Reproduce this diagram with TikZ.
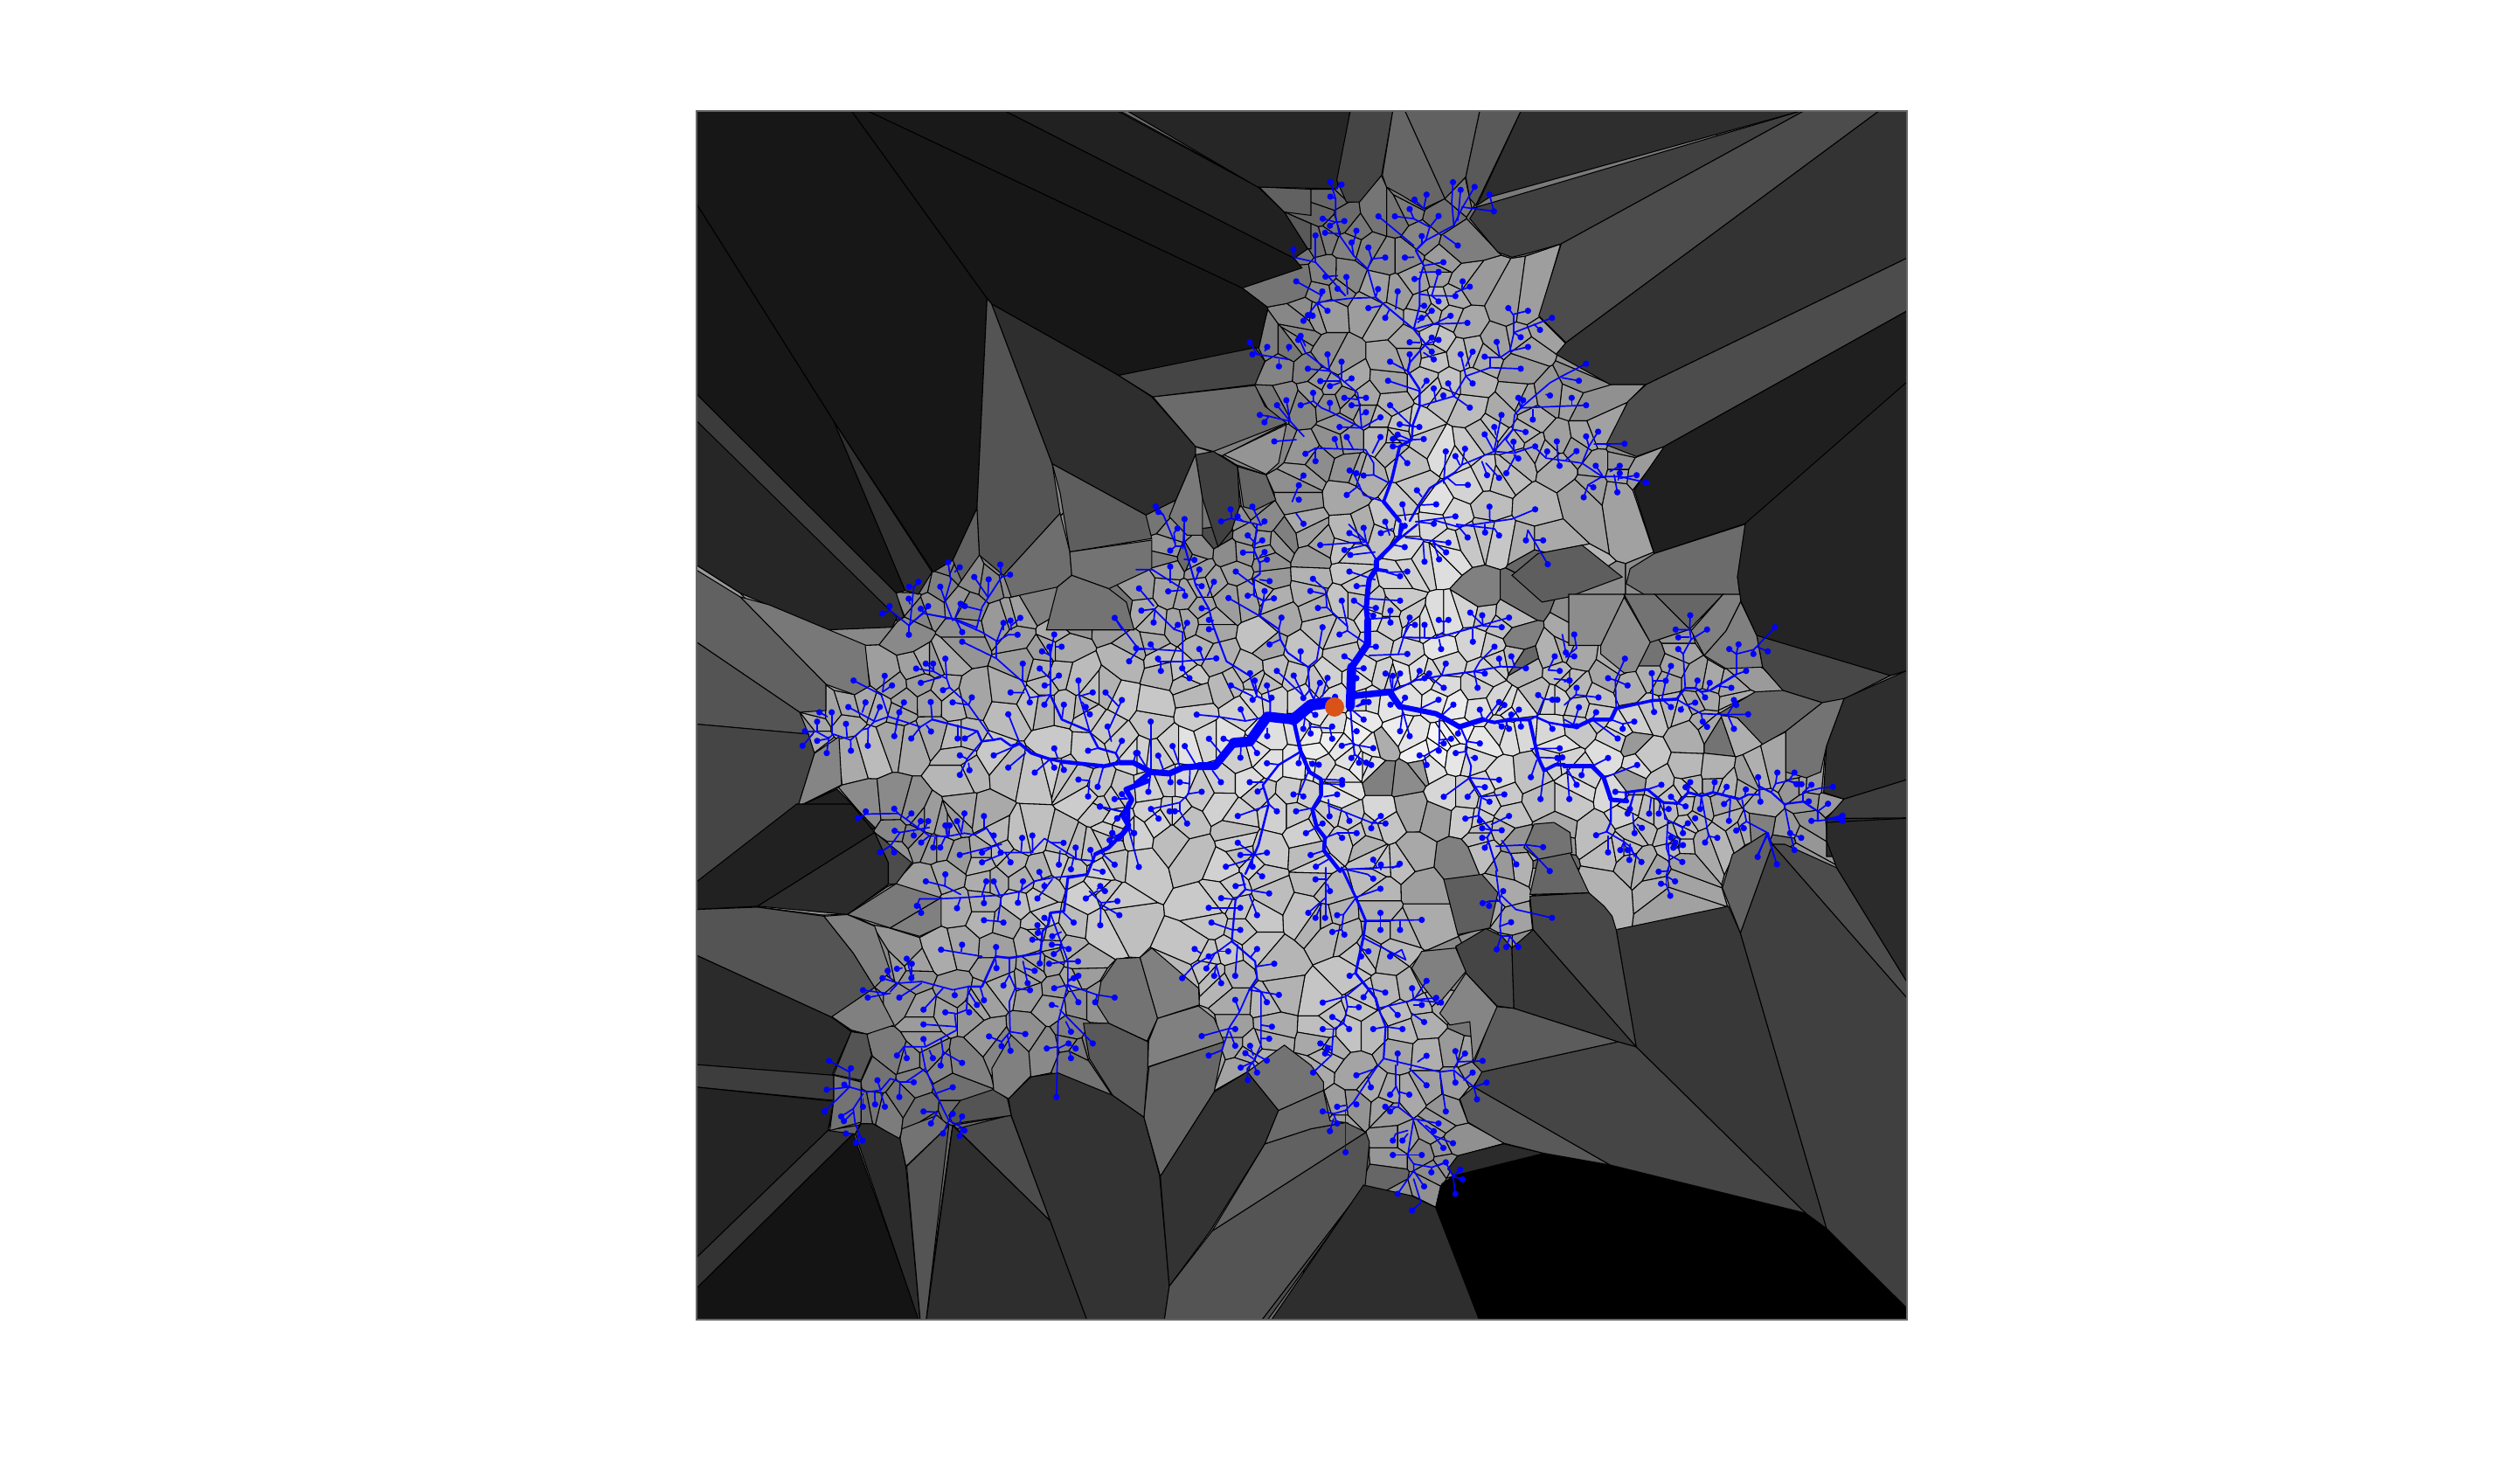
\documentclass[tikz,border=0pt]{standalone}
\definecolor{rootc}{RGB}{217,83,25}
\newcount\N \N=0
\newcount\curX \newcount\curY \newcount\first \newcount\sgv
\newcount\cpx \newcount\cpy \newcount\cpf \newcount\cqx \newcount\cqy \newcount\cqf \newcount\ca
\newcount\cdx \newcount\cdy \newcount\cdd \newcount\rmx \newcount\rtmp \newcount\chg
\newcount\sxi \newcount\syi \newcount\ii \newcount\jj \newcount\gi \newcount\seed
\newcount\tx \newcount\ty \newcount\ix \newcount\iy \newcount\fx \newcount\fy \newcount\gval
\def\zn#1#2#3#4{\def\ox{#1}\def\oy{#2}\def\kx{#3}\def\ky{#4}}
\def\pp{\futurelet\tok\ppc}
\def\ppc{\ifx\tok(\expandafter\ppt\else\expandafter\ppend\fi}
\def\ppt(#1,#2){\curX=\numexpr\ox*16+#1*1600/\kx\relax \curY=\numexpr\oy*16+#2*1600/\ky\relax \ptact \pp}
\def\mk{\pgfqpoint{\numexpr\curX*11654/10\relax sp}{-\numexpr\curY*11654/10\relax sp}}
\def\ptact{\ifcase\first\pgfpathlineto{\mk}\or\pgfpathmoveto{\mk}\first=0 \fi}
\def\addsite{\count\numexpr10000+\N\relax=\curX \count\numexpr12000+\N\relax=\curY \count\numexpr14000+\N\relax=\sgv \advance\N1 }
% pass 1: collect sites
\def\passone{\first=2 %
 \def\tw{\def\ppend{\sgv=0 \addsite}\pp}%
 \def\br{\def\ppend{}\pp}%
 \def\dm##1{\def\ppend{\sgv=##1 \addsite}\pp}%
 \def\ws##1{}}
% pass 2: draw tree
\def\passtwo{%
 \def\tw{\first=1 \def\ppend{\pgfusepath{stroke}\pgfpathcircle{\mk}{1.03pt}\pgfusepath{fill}}\pp}%
 \def\br{\first=1 \def\ppend{\pgfusepath{stroke}}\pp}%
 \def\dm##1{\first=2 \def\ppend{}\pp}%
 \def\ws##1{\pgfsetlinewidth{\the\dimexpr0.02845pt*##1\relax}}}
\def\pg#1{\definecolor{pc}{gray}{#1}\pgfsetfillcolor{pc}\first=1 \def\ppend{\pgfpathclose\pgfusepath{fill,stroke}}\pp}
% half-plane clipping of a cell
\def\vlast#1#2{\cpx=#1 \cpy=#2 }
\def\addq{\edef\newp{\unexpanded\expandafter{\newp}\noexpand\v{\the\cqx}{\the\cqy}}}
\def\addint{\chg=1 \ca=\numexpr\cpf-\cqf\relax
 \edef\newp{\unexpanded\expandafter{\newp}\noexpand\v{\the\numexpr\cpx+(\cqx-\cpx)*\cpf/\ca\relax}{\the\numexpr\cpy+(\cqy-\cpy)*\cpf/\ca\relax}}}
\def\vstep#1#2{\cqx=#1 \cqy=#2 
 \cqf=\numexpr\cqx*\cdx+\cqy*\cdy-\cdd\relax
 \ifnum\cpf>0 \ifnum\cqf>0 \else\addint\addq\fi
 \else \ifnum\cqf>0 \addint\else\addq\fi\fi
 \cpx=\cqx \cpy=\cqy \cpf=\cqf }
\def\vmax#1#2{\rtmp=\numexpr#1*#1+#2*#2\relax \ifnum\rtmp>\rmx \rmx=\rtmp \fi}
\def\clipby{\let\newp\empty \chg=0 \let\v\vlast \poly
 \cpf=\numexpr\cpx*\cdx+\cpy*\cdy-\cdd\relax
 \let\v\vstep \poly
 \ifnum\chg=1 \let\poly\newp \rmx=0 \let\v\vmax \poly \fi}
\def\jbody{\cdx=\numexpr\count\numexpr10000+\jj\relax-\sxi\relax
 \ifnum\cdx<11000 \ifnum\cdx>-11000
 \cdy=\numexpr\count\numexpr12000+\jj\relax-\syi\relax
 \ifnum\cdy<11000 \ifnum\cdy>-11000
 \cdd=\numexpr\cdx*\cdx+\cdy*\cdy\relax
 \ifnum\cdd>0 \ifnum\cdd<\numexpr4*\rmx\relax
 \divide\cdd 2 \clipby
 \fi\fi\fi\fi\fi\fi}
\def\jloop{\ifnum\jj<\N \jbody \advance\jj1 \expandafter\jloop\fi}
\def\vmv#1#2{\pgfpathmoveto{\pgfqpoint{\numexpr(#1+\sxi)*11654/10\relax sp}{-\numexpr(#2+\syi)*11654/10\relax sp}}\let\v\vln}
\def\vln#1#2{\pgfpathlineto{\pgfqpoint{\numexpr(#1+\sxi)*11654/10\relax sp}{-\numexpr(#2+\syi)*11654/10\relax sp}}}
\def\tb#1#2{\count\numexpr16000+14*(#2)+#1\relax}
\def\setgray{\gval=\count\numexpr14000+\ii\relax
 \ifnum\gval>0 \gval=\numexpr\gval*10\relax \else
 \tx=\numexpr\sxi/16-850\relax \ifnum\tx<0 \tx=0 \fi \ifnum\tx>1299 \tx=1299 \fi
 \ty=\numexpr\syi/16-150\relax \ifnum\ty<0 \ty=0 \fi \ifnum\ty>1399 \ty=1399 \fi
 \ix=\tx \divide\ix100 \fx=\numexpr\tx-100*\ix\relax
 \iy=\ty \divide\iy100 \fy=\numexpr\ty-100*\iy\relax
 \gval=\numexpr(\tb{\ix}{\iy}*(100-\fx)*(100-\fy)+\tb{\ix+1}{\iy}*\fx*(100-\fy)+\tb{\ix}{\iy+1}*(100-\fx)*\fy+\tb{\ix+1}{\iy+1}*\fx*\fy)/125+220\relax
 \seed=\numexpr(\seed*1103+12345)\relax \seed=\numexpr\seed-32768*(\seed/32768)\relax \ifnum\seed<0 \advance\seed32768 \fi
 \gval=\numexpr\gval+(\seed-16384)/400\relax
 \fi
 \ifnum\gval<100 \gval=100 \fi \ifnum\gval>985 \gval=985 \fi}
\def\onecell{\sxi=\count\numexpr10000+\ii\relax \syi=\count\numexpr12000+\ii\relax
 \def\poly{\v{-4160}{-4160}\v{4160}{-4160}\v{4160}{4160}\v{-4160}{4160}}\rmx=34611200 
 \jj=0 \jloop
 \setgray \definecolor{cc}{gray}{0.\the\gval}\pgfsetfillcolor{cc}
 \let\v\vmv \poly \pgfpathclose \pgfusepath{fill,stroke}}
\def\iloop{\ifnum\ii<\N \onecell \advance\ii1 \expandafter\iloop\fi}
\def\rowp#1{\ifx#1.\else \count\numexpr16000+\gi\relax=#1 \advance\gi1 \expandafter\rowp\fi}
\gi=0 \seed=4711
\rowp 22222222222222.
\rowp 22222223332222.
\rowp 22222235653222.
\rowp 22222235754322.
\rowp 22222245865432.
\rowp 22344557865422.
\rowp 24556667865543.
\rowp 26677889988654.
\rowp 24467777767653.
\rowp 23567776555432.
\rowp 23554667633222.
\rowp 23332355543222.
\rowp 22222234432222.
\rowp 22222223322222.
\rowp 22222222222222.
\rowp 22222222222222.
\def\treedata{%
\zn{1300}{600}{300}{300}%
\ws{105}\br(735,625)(740,490)
\ws{80}\br(740,490)(795,410)(795,330)
\ws{60}\br(795,330)(790,290)(795,230)(800,190)(825,150)(825,125)
\ws{45}\br(825,125)(880,70)(905,40)(910,0)
\ws{130}\br(660,612)(600,620)(540,670)
\ws{115}\br(540,670)(450,660)(390,745)(335,750)
\ws{90}\br(335,750)(270,830)(215,830)
\ws{70}\br(215,830)(160,835)(115,855)(50,850)
\ws{60}\br(50,850)(0,890)
\ws{50}\br(50,850)(0,822)
\ws{75}\br(735,590)(870,575)(905,625)
\ws{60}\br(905,625)(1030,650)(1110,695)(1190,670)
\ws{40}\br(1190,670)(1230,680)(1280,670)(1350,670)(1380,800)(1400,845)(1440,825)(1470,825)
\ws{45}\br(540,670)(565,780)(595,850)(635,875)(635,930)(605,980)(620,1040)(648,1075)(645,1120)(700,1190)
\ws{25}\br(565,780)(490,825)(435,895)(455,960)(420,1100)(405,1135)(375,1200)
\br(885,65)(965,0)
\br(1350,670)(1370,660)(1415,680)(1470,690)
\ws{20}\br(415,0)(405,90)(425,135)(425,170)(405,185)(405,245)(437,262)(425,315)(490,360)(495,395)(520,440)(590,490)(595,570)(610,600)
\br(165,0)(165,70)(205,210)(250,290)(265,350)(310,470)(390,520)(415,590)(460,610)(460,650)
\br(1115,700)(1135,745)(1130,775)(1150,830)(1145,870)(1185,935)(1175,1000)(1220,1050)(1205,1075)(1240,1190)
\br(875,575)(960,535)(1045,520)(1160,505)(1250,488)(1300,490)
\br(915,388)(1030,390)(1190,345)
\ws{17}%
\tw(135,75)(130,30)(142,14)\tw(165,75)(135,75)(117,90)\tw(165,120)(200,122)\tw(205,205)(225,212)\tw(205,190)(217,155)\tw(245,245)(267,197)\tw(250,290)(225,288)\tw(265,330)(250,328)\tw(265,360)(250,360)
\br(0,155)(55,155)(165,225)\tw(165,225)(168,245)\tw(165,225)(110,230)\tw(117,200)(117,145)
\br(60,290)(130,360)(160,370)(160,470)\tw(65,290)(18,296)\tw(65,290)(60,337)\tw(60,280)(10,220)\tw(160,435)(0,425)\tw(130,360)(143,345)\tw(165,360)(175,338)\tw(60,425)(50,412)
\br(160,470)(75,470)\tw(75,470)(75,461)\tw(85,470)(85,503)\tw(160,470)(275,460)\tw(232,468)(217,428)\tw(160,470)(158,494)\tw(158,494)(183,528)
\tw(405,60)(383,38)\tw(405,70)(433,55)\tw(405,97)(367,97)\tw(425,110)(441,95)\tw(425,130)(449,121)\tw(405,210)(342,162)\tw(425,190)(458,195)\tw(405,240)(383,245)\tw(437,262)(441,229)\tw(437,262)(473,254)\tw(425,315)(317,253)\tw(490,360)(499,320)\tw(495,395)(458,412)\tw(565,470)(565,436)
\tw(590,490)(620,465)(640,353)\tw(575,590)(483,503)\tw(575,590)(541,519)\tw(595,570)(574,596)\tw(610,600)(631,544)\tw(640,590)(657,527)
\br(650,225)(655,285)(725,350)(725,365)(790,410)\tw(650,225)(607,187)\tw(650,240)(598,229)\tw(655,285)(624,287)\tw(725,350)(706,262)\tw(725,365)(698,378)
\tw(385,515)(391,511)\tw(415,580)(407,536)\tw(400,590)(325,553)\tw(415,590)(400,602)\tw(460,610)(449,553)\tw(460,610)(465,595)
\tw(450,660)(375,675)(280,660)(208,653)\tw(375,675)(359,635)
\tw(450,700)(450,727)\tw(335,750)(300,736)\tw(295,790)(250,736)\tw(395,755)(415,785)\tw(360,760)(358,801)\tw(150,830)(125,761)\tw(205,825)(167,761)\tw(100,860)(76,794)\tw(50,850)(50,677)\tw(45,850)(5,785)\tw(118,855)(118,885)\tw(185,840)(183,890)(150,885)\tw(50,850)(42,918)\tw(262,845)(291,885)
\br(183,890)(180,925)(150,955)\tw(180,925)(225,918)\tw(150,955)(51,977)\tw(51,977)(77,1010)\br(150,955)(150,985)\tw(150,985)(115,985)\tw(150,985)(133,985)\tw(150,985)(175,1027)
\tw(490,825)(449,820)\tw(435,885)(390,885)\tw(435,905)(417,917)\tw(455,960)(483,985)\tw(450,965)(349,1001)\tw(405,1135)(349,1093)\tw(405,1135)(358,1135)\tw(405,1135)(449,1127)\tw(390,1150)(308,1175)\tw(400,1140)(400,1175)
\tw(565,780)(558,820)\tw(595,815)(605,822)\tw(600,820)(627,825)
\tw(590,850)(560,925)(574,934)\tw(560,925)(540,927)
\tw(640,875)(707,878)\tw(640,890)(707,893)\tw(645,935)(690,927)\tw(660,945)(664,1002)\tw(600,975)(549,985)\br(660,965)(810,1025)\tw(810,1025)(856,1027)\tw(810,1025)(840,1001)\tw(810,1025)(807,1043)\tw(720,990)(732,1018)\tw(610,1040)(640,1027)\br(650,1075)(690,1060)\tw(690,1060)(757,1060)\tw(690,1060)(707,1076)\tw(620,1040)(583,1060)\tw(645,1120)(599,1135)\tw(660,1150)(617,1175)\br(700,1185)(905,1175)\tw(825,1175)(814,1151)\tw(840,1185)(840,1168)\tw(880,1180)(905,1165)
\tw(595,640)(615,654)\tw(580,660)(574,702)\tw(595,680)(599,718)\br(600,695)(665,700)\tw(665,700)(673,736)\tw(665,700)(673,694)
\ws{20}\br(735,625)(745,750)(750,790)(765,800)\ws{17}\tw(755,625)(781,610)\tw(760,625)(798,610)\tw(745,640)(781,670)\tw(745,710)(757,710)\tw(745,750)(706,760)\tw(745,755)(814,768)\tw(750,790)(739,802)\tw(765,800)(765,818)\tw(765,800)(790,818)\tw(790,810)(807,826)\tw(660,610)(683,592)
\tw(740,510)(756,528)\tw(745,495)(781,494)\tw(745,470)(715,453)\tw(800,420)(823,420)\tw(800,450)(931,445)\tw(900,445)(939,320)\tw(795,255)(906,262)\tw(790,290)(748,262)\tw(790,285)(823,287)\tw(800,305)(814,313)\br(800,325)(870,320)\tw(870,320)(873,296)\tw(870,320)(873,337)\tw(795,210)(757,212)\tw(820,190)(732,162)\ws{40}\br(825,155)(860,160)\ws{17}\tw(860,165)(906,178)\tw(860,165)(931,162)
\br(825,125)(790,60)(730,0)\tw(820,95)(735,105)\tw(790,70)(715,88)\tw(790,60)(632,71)\tw(790,60)(781,12)\tw(790,60)(732,30)
\tw(905,40)(922,5)\tw(880,70)(922,78)\tw(925,45)(1072,63)\tw(1020,60)(1040,120)\tw(1020,60)(1064,96)\tw(985,60)(990,128)\tw(880,15)(840,30)
\tw(1100,0)(1138,45)\tw(1198,0)(1198,28)\tw(1100,0)(1230,15)(1246,38)\tw(1345,20)(1338,55)\tw(1345,20)(1413,137)\tw(1370,55)(1397,55)
\tw(990,388)(990,345)\br(1030,385)(1055,370)(1055,335)\tw(1055,335)(1039,328)\tw(1055,335)(1072,328)\tw(1040,395)(1047,428)\tw(1156,360)(1156,403)\tw(1190,345)(1147,303)\tw(1190,345)(1188,312)\tw(1190,348)(1255,353)\tw(1190,345)(1280,320)\tw(915,388)(939,345)(957,345)
\tw(1160,505)(1180,470)(1230,420)\tw(1160,505)(1197,512)\tw(1160,505)(1172,561)\tw(1050,515)(1063,478)\tw(1250,488)(1246,461)\tw(1300,490)(1288,453)\tw(1300,490)(1338,494)\tw(880,575)(870,520)(856,512)\tw(880,560)(881,520)\tw(880,575)(906,512)\tw(960,535)(973,503)\tw(1000,520)(1006,512)\tw(975,535)(990,528)\tw(1010,525)(1056,561)
\tw(905,625)(923,595)\tw(900,610)(873,619)\tw(915,640)(906,710)\tw(915,640)(939,727)\tw(980,630)(1038,602)\tw(1050,655)(1089,619)
\br(1040,670)(1040,740)\tw(1040,740)(1039,777)\tw(1040,740)(1081,736)\tw(1040,750)(1056,752)\tw(1040,765)(990,795)(973,793)\tw(990,795)(997,826)\tw(1110,700)(1105,718)
\tw(1135,745)(1180,752)\tw(1130,780)(1097,785)\tw(1150,800)(1163,802)\tw(1145,870)(1246,877)\tw(1145,870)(1056,935)\tw(1160,900)(1197,902)\tw(1165,905)(1138,935)\tw(1185,935)(1264,927)\tw(1190,940)(1213,952)\tw(1175,1000)(1130,1010)\tw(1220,1030)(1280,1001)\tw(1175,1005)(1180,1018)\tw(1220,1050)(1188,1043)\tw(1220,1050)(1255,1050)\tw(1205,1075)(1188,1076)\tw(1210,1090)(1197,1110)
\br(1235,1105)(1340,1100)\tw(1340,1100)(1397,1108)\br(1255,1085)(1270,1105)\tw(1270,1105)(1305,1167)\tw(1340,1105)(1420,1190)
\tw(1190,670)(1180,636)\tw(1200,668)(1246,610)\tw(1245,640)(1264,620)\tw(1280,670)(1314,636)\tw(1280,670)(1288,653)\tw(1240,680)(1255,694)\tw(1270,680)(1280,702)\tw(1320,670)(1321,694)\br(1375,660)(1400,600)\tw(1400,600)(1380,586)\tw(1400,600)(1429,602)\tw(1400,600)(1446,602)\tw(1415,680)(1429,702)
\tw(1355,770)(1454,769)\tw(1380,800)(1446,802)\tw(1400,845)(1388,943)\tw(1375,810)(1355,868)\tw(1440,825)(1463,800)
\tw(1415,500)(1437,453)\tw(1415,500)(1454,503)\tw(1435,530)(1488,536)\tw(1463,378)(1475,440)
%
\zn{1790}{680}{300}{300}%
\tw(5,215)(42,185)(34,138)\tw(5,215)(34,213)\tw(0,380)(40,345)(117,354)\tw(40,345)(42,321)\tw(0,300)(17,296)
\ws{45}\br(0,450)(42,455)(95,430)(160,430)(178,392)\ws{35}\br(178,392)(300,365)(385,360)\ws{25}\br(385,360)(415,322)(450,322)(470,335)(500,330)(590,275)
\ws{17}\tw(590,275)(624,263)\tw(160,430)(200,445)(240,437)\tw(200,445)(200,462)\tw(95,430)(183,495)\tw(95,430)(109,405)\tw(30,450)(50,388)\tw(0,430)(42,453)
\br(178,392)(175,295)\tw(175,295)(208,221)\tw(175,295)(150,288)\tw(175,295)(217,313)\tw(300,365)(308,404)\tw(303,360)(303,297)(300,271)\tw(303,297)(348,297)\tw(335,360)(348,297)(366,246)\tw(335,360)(366,387)
\br(385,360)(470,410)\tw(470,410)(475,437)\tw(475,437)(490,455)\tw(420,380)(449,372)\tw(405,385)(400,396)\br(470,410)(560,413)\tw(560,413)(631,412)\tw(560,413)(580,380)(582,363)\tw(575,385)(590,380)\tw(560,413)(582,462)
\br(415,322)(408,205)\tw(408,205)(391,188)\br(408,205)(435,155)\tw(435,155)(490,121)\br(435,155)(430,120)\tw(430,120)(432,72)\tw(430,122)(382,121)\tw(428,148)(391,148)\tw(450,322)(457,296)\tw(470,335)(483,354)\tw(490,330)(499,304)\tw(530,315)(573,321)
\br(590,275)(590,205)\tw(590,205)(566,188)\tw(590,205)(598,172)\tw(590,205)(650,190)(723,113)\tw(650,190)(649,205)\tw(660,180)(698,196)
\ws{50}\br(0,590)(95,590)(135,630)(160,705)(215,710)\ws{30}\br(210,680)(215,710)\ws{30}\br(210,680)(285,670)(340,715)(390,718)(425,680)(470,692)(510,680)(600,703)\ws{22}\br(600,703)(630,688)(670,688)(670,660)(710,680)(755,720)(820,712)(870,745)(870,778)
\ws{17}\tw(870,778)(945,768)\tw(905,770)(955,760)\tw(905,770)(955,778)\tw(870,778)(848,778)\tw(95,590)(150,562)\tw(135,630)(250,586)\tw(65,595)(59,621)\tw(10,600)(42,654)\tw(10,600)(17,703)\tw(210,680)(175,678)\tw(285,670)(333,654)
\ws{22}\br(160,705)(160,780)(145,815)\ws{17}\tw(145,815)(109,827)\br(145,815)(205,850)(230,870)(240,900)\tw(150,830)(150,886)\tw(205,850)(192,878)\tw(205,855)(217,878)\tw(240,680)(225,737)\tw(240,680)(217,753)\tw(235,755)(241,820)\tw(250,790)(266,802)\tw(298,700)(291,753)\tw(330,712)(324,753)\br(340,715)(345,770)\tw(342,740)(358,737)\br(345,770)(405,800)\tw(405,800)(424,786)\tw(405,800)(407,820)
\br(355,780)(350,870)(360,900)\tw(360,840)(366,835)\tw(350,860)(381,852)\br(352,815)(395,840)(395,870)\tw(395,870)(374,870)\tw(395,860)(407,861)
\tw(390,718)(366,695)\tw(395,720)(416,728)\tw(425,680)(432,645)\tw(425,680)(416,662)\br(470,692)(495,830)\tw(495,830)(483,852)\tw(495,830)(525,836)\tw(470,692)(466,737)\tw(440,770)(449,769)\tw(510,680)(516,645)\tw(540,690)(557,661)\tw(570,700)(548,720)\tw(570,705)(565,778)\tw(620,690)(623,670)\br(610,705)(625,780)(700,820)\tw(625,780)(610,790)(590,811)\tw(610,790)(616,803)\br(700,820)(660,900)\br(700,820)(720,900)\tw(670,688)(673,712)\tw(670,660)(665,628)
\br(710,680)(725,650)\tw(725,650)(731,612)\br(725,650)(770,640)\tw(770,640)(790,612)\tw(770,640)(797,652)\tw(770,640)(814,652)\br(820,712)(820,680)\tw(820,680)(848,654)\tw(820,680)(880,665)(922,661)\tw(815,712)(839,711)\tw(870,745)(905,719)\tw(755,720)(775,820)\tw(775,820)(813,836)\tw(775,820)(790,878)
%
\zn{1480}{920}{218}{261}%
\ws{30}\br(120,190)(155,278)(180,348)(175,395)(155,505)(205,580)(212,610)\ws{22}\br(212,610)(230,665)(225,760)\ws{17}\br(225,760)(205,790)(150,890)(130,915)(100,925)\tw(130,915)(130,1040)
\tw(130,195)(185,210)(199,223)\tw(80,225)(55,225)\tw(85,240)(91,260)\br(80,190)(80,340)\tw(80,340)(79,340)\tw(80,280)(37,325)\tw(70,300)(55,340)\tw(157,278)(217,253)\tw(157,278)(125,330)(109,332)\br(125,330)(120,375)\tw(120,375)(97,382)\tw(120,375)(127,390)\br(180,348)(320,346)\tw(217,348)(217,325)\tw(217,348)(217,376)\tw(266,350)(266,376)\tw(300,346)(320,346)\br(175,400)(280,465)(270,435)\tw(270,435)(241,455)\tw(165,430)(187,440)\tw(165,440)(169,455)\tw(155,505)(140,513)
\br(170,535)(130,575)(135,605)(125,655)\tw(130,575)(73,593)\tw(135,605)(163,607)\tw(125,655)(97,636)\tw(125,655)(139,672)\br(125,655)(100,672)(95,750)\tw(100,672)(73,672)\tw(95,750)(49,802)\tw(95,725)(67,715)\tw(95,735)(85,730)\tw(90,750)(79,745)\tw(190,550)(175,577)\tw(190,550)(229,563)
\br(212,610)(300,585)\tw(300,585)(296,550)\tw(300,585)(332,528)\tw(300,585)(356,579)\tw(300,585)(368,593)\tw(300,600)(320,600)\tw(295,625)(326,651)\tw(240,605)(260,630)\tw(230,665)(199,672)\tw(230,665)(272,672)
\br(225,760)(295,780)(365,800)(400,795)(450,845)\tw(450,845)(458,882)\tw(260,780)(260,745)\tw(310,770)(332,752)\tw(290,790)(332,840)\br(400,790)(410,770)\tw(410,770)(472,767)\tw(410,770)(404,738)\tw(410,770)(428,745)\tw(400,800)(404,832)\tw(425,825)(447,802)\tw(450,845)(482,832)\tw(365,800)(380,918)
\br(255,780)(255,840)(265,870)(262,905)(300,940)(285,1050)(300,1075)(300,1095)\tw(255,845)(241,868)\tw(265,860)(289,868)\tw(262,905)(229,904)\tw(255,905)(241,918)\tw(300,940)(362,954)\tw(310,945)(350,990)(374,1027)\tw(330,960)(350,977)\tw(350,990)(398,1013)\tw(285,975)(255,985)(248,1005)\tw(285,985)(272,1005)\tw(285,1048)(248,1048)\tw(285,1048)(320,1048)\tw(300,1095)(260,1164)\tw(300,1095)(326,1142)\tw(300,1120)(318,1190)(296,1214)
\br(300,1075)(345,1085)(380,1070)\tw(345,1085)(344,1100)\tw(360,1080)(380,1070)\br(380,1070)(398,1112)\tw(398,1112)(416,1092)\tw(398,1112)(422,1121)\tw(398,1112)(404,1164)
\tw(205,790)(157,810)\tw(185,815)(193,846)\tw(150,890)(157,897)\tw(100,925)(73,918)\tw(130,900)(109,904)\tw(100,925)(109,954)\tw(100,940)(91,977)
\br(505,200)(515,290)(520,300)(515,365)(518,395)\tw(515,280)(523,260)\br(515,290)(490,290)\tw(490,290)(472,296)\tw(490,290)(488,304)\tw(520,275)(555,315)(645,340)\tw(515,365)(543,353)\tw(518,395)(507,434)\br(518,395)(540,395)\tw(540,395)(531,427)\tw(540,395)(561,427)
\tw(1181,88)(1158,158)\tw(1181,88)(1206,180)\br(935,120)(938,175)(935,200)\tw(935,200)(911,202)\br(935,190)(930,215)\tw(930,215)(952,231)\br(930,215)(930,240)\tw(930,240)(917,238)\tw(930,240)(940,274)\tw(840,120)(838,167)\tw(840,135)(868,173)\tw(935,150)(970,173)
%
\zn{1480}{120}{218}{261}%
\ws{45}\br(265,1243)(225,1185)\ws{35}\br(225,1185)(245,1120)(265,1020)(295,1000)\ws{25}\br(295,1000)(298,955)(315,900)(315,850)(285,795)(290,770)\ws{20}\br(290,770)(330,715)(300,670)(315,600)(315,520)(325,480)(305,435)(330,405)\ws{17}\br(330,405)(400,360)(420,310)\ws{25}\br(290,1243)(315,1190)(340,1145)(400,1100)\ws{17}\br(400,1100)(420,1075)(500,1035)(550,1040)(600,1020)(630,1055)(720,1070)(770,1110)(815,1110)\tw(815,1110)(880,1128)\tw(600,1020)(603,1020)
\tw(320,1170)(308,1151)\tw(320,1195)(356,1193)\tw(280,1240)(272,1193)\tw(240,1285)(229,1245)\tw(305,1245)(404,1229)\tw(305,1245)(350,1251)\br(350,1240)(410,1260)(545,1237)\tw(490,1245)(489,1200)\tw(545,1237)(603,1208)
\br(225,1185)(175,1165)(150,1100)\tw(150,1100)(140,1092)\tw(165,1135)(133,1165)\br(240,1130)(200,1105)(200,1070)(180,1030)(55,1025)\tw(55,1025)(30,1042)\tw(55,1025)(55,1064)\tw(200,1105)(175,1107)\tw(175,1107)(157,1100)\tw(197,1040)(217,992)\tw(150,1030)(133,992)\tw(110,1025)(103,998)
\tw(265,1020)(248,1020)\tw(298,1000)(325,998)\tw(265,1045)(284,1070)\tw(290,1000)(260,985)\tw(285,1005)(248,998)\tw(296,960)(314,962)\tw(296,960)(265,954)\tw(296,960)(241,897)
\br(170,965)(165,900)(160,860)(120,820)(90,795)(30,740)(15,700)\tw(170,965)(115,962)\tw(170,965)(217,933)\tw(170,925)(181,918)\tw(160,875)(181,875)\tw(160,880)(127,875)\tw(165,897)(145,897)\tw(90,795)(85,745)\tw(90,795)(36,788)\tw(120,820)(120,767)\tw(115,825)(67,825)\tw(130,825)(145,817)\tw(115,830)(91,840)\tw(30,720)(18,690)\tw(15,700)(12,702)
\br(170,965)(90,915)(70,905)(50,885)\tw(50,885)(18,897)\tw(50,885)(49,860)\tw(90,915)(91,890)
\tw(315,855)(236,824)\tw(320,845)(332,824)\br(315,900)(400,870)\tw(400,870)(440,904)\tw(400,870)(386,832)\tw(355,885)(350,847)\tw(370,875)(374,868)
\br(400,870)(430,810)(490,785)\tw(490,785)(567,788)\tw(430,810)(417,745)\tw(430,810)(447,832)\tw(430,780)(447,737)\br(490,785)(490,755)(515,755)\tw(515,755)(507,708)\tw(490,755)(477,752)\br(515,755)(540,735)\tw(540,735)(585,723)\br(540,735)(550,680)\tw(550,680)(567,694)\tw(550,680)(645,636)\tw(600,655)(615,672)\br(550,680)(550,630)\tw(550,630)(536,607)\tw(550,625)(585,615)
\tw(285,795)(241,767)\tw(290,770)(290,745)\tw(330,715)(345,695)\tw(330,715)(362,702)\tw(330,720)(345,737)\tw(325,740)(350,760)\tw(315,710)(290,709)\br(300,670)(345,655)\tw(345,655)(434,651)\tw(350,655)(392,630)\tw(310,650)(345,615)\tw(310,640)(320,636)\tw(315,600)(326,600)\br(315,565)(345,570)\tw(345,570)(362,587)\tw(345,570)(404,571)\tw(404,560)(440,543)\tw(420,550)(422,527)\tw(345,570)(362,500)
\ws{20}\br(300,670)(240,610)(205,575)\ws{17}\br(205,575)(185,490)(150,450)(115,390)(105,330)(105,280)\tw(105,280)(92,230)\tw(105,280)(92,274)\tw(105,250)(120,238)\tw(110,350)(127,347)\tw(105,350)(73,340)\tw(105,350)(91,361)\tw(115,385)(79,382)\tw(150,450)(145,411)\tw(150,410)(157,376)\br(185,490)(195,460)\tw(195,460)(229,456)\tw(195,460)(187,426)\tw(240,610)(229,636)\tw(255,610)(260,557)\tw(220,600)(187,607)\tw(205,575)(211,550)
\br(205,575)(140,578)(60,590)\tw(60,590)(25,645)\tw(60,590)(85,615)\tw(60,600)(72,557)\tw(45,620)(36,628)\tw(50,622)(48,630)\br(55,470)(130,570)\tw(130,570)(110,549)\br(135,565)(132,514)\tw(132,514)(132,514)\tw(110,510)(80,513)\br(55,470)(0,455)\tw(0,455)(0,432)\tw(55,470)(55,390)\tw(72,570)(7,527)
\tw(315,520)(302,520)\tw(325,480)(374,470)\tw(315,500)(362,499)\tw(300,455)(278,456)\br(305,435)(320,415)\tw(320,415)(320,392)\br(330,405)(340,365)\tw(340,365)(362,332)\br(340,365)(300,340)\tw(300,340)(253,333)\tw(300,340)(290,311)\tw(300,420)(212,333)\tw(325,310)(302,283)\tw(325,310)(332,268)\tw(400,360)(395,290)(398,231)\tw(410,345)(417,254)\tw(420,310)(452,245)\tw(420,305)(500,318)\tw(500,318)(489,268)\tw(375,390)(410,420)
\br(500,1035)(547,970)(552,925)(567,905)\tw(567,905)(730,897)\tw(567,905)(561,875)\tw(567,905)(573,882)\tw(597,910)(597,940)\tw(694,895)(694,875)\br(567,905)(640,830)(670,810)\tw(670,810)(730,773)\tw(670,815)(712,824)\tw(630,865)(640,868)\tw(552,970)(579,977)\br(547,970)(530,1000)(555,1040)\tw(550,1030)(549,1006)\tw(550,1045)(561,1056)\tw(555,1045)(531,1100)\tw(500,1035)(519,926)\tw(500,1035)(477,984)\tw(505,985)(501,962)\tw(480,1070)(513,1114)\tw(470,1065)(483,1106)\tw(420,1075)(428,1027)\tw(415,1075)(404,1049)\tw(375,1130)(380,1035)\tw(385,1115)(405,1135)(435,1135)
\tw(660,1060)(657,1005)\tw(660,1060)(664,1078)\tw(680,1060)(706,1034)\tw(630,1050)(633,1035)\br(720,1070)(737,1020)\tw(737,1020)(730,990)\tw(737,1020)(760,976)\tw(750,1013)(826,1012)\tw(770,1105)(754,1078)\tw(790,1095)(814,1078)\tw(800,1105)(808,1157)\tw(810,1120)(814,1100)\br(770,1110)(735,1135)\tw(735,1135)(724,1172)\tw(735,1135)(748,1142)\tw(815,1115)(856,1106)
%
\zn{800}{120}{224}{261}%
\tw(1430,745)(1411,709)\tw(1430,745)(1418,745)\br(1430,745)(1510,760)\tw(1450,735)(1456,723)\tw(1486,760)(1486,781)\tw(1510,735)(1512,723)
\tw(1515,945)(1505,882)\tw(1515,945)(1481,897)\br(1515,945)(1460,930)\tw(1460,930)(1437,926)\tw(1460,930)(1449,948)\tw(1530,1000)(1474,1005)\br(1515,945)(1550,990)
\tw(1190,1225)(1170,1199)\tw(1190,1225)(1177,1216)\br(1190,1225)(1220,1310)\tw(1240,1325)(1244,1237)
\tw(1440,1255)(1362,1235)(1338,1244)\tw(1365,1235)(1362,1208)\tw(1395,1245)(1380,1229)\tw(1440,1255)(1418,1200)\tw(1440,1255)(1449,1244)
\tw(1520,1185)(1537,1136)\tw(1530,1175)(1537,1179)\tw(1530,1220)(1549,1251)\tw(1540,1120)(1549,1107)
\tw(630,1480)(645,1420)(638,1366)\tw(655,1395)(668,1381)\tw(630,1480)(618,1439)\br(650,1540)(630,1480)\tw(655,1535)(670,1490)\tw(725,1510)(681,1497)
\br(710,1568)(725,1500)(775,1410)\tw(775,1410)(772,1373)\tw(775,1410)(797,1403)\tw(740,1470)(742,1417)\tw(740,1470)(705,1410)
\br(580,1520)(655,1535)(710,1560)\br(538,1555)(580,1510)\tw(580,1510)(587,1497)\tw(575,1515)(568,1505)\br(538,1555)(490,1510)\tw(490,1510)(488,1497)\tw(490,1510)(469,1519)\br(540,1555)(550,1440)\tw(550,1440)(538,1439)\tw(550,1440)(562,1424)\tw(540,1490)(537,1475)\tw(780,1568)(780,1547)\tw(800,1568)(798,1540)\tw(800,1555)(823,1532)\tw(1085,1568)(1065,1532)
%
\zn{880}{680}{300}{300}%
\ws{60}\br(1310,609)(1250,578)(1205,578)\ws{45}\br(1205,578)(1150,590)(1010,575)\ws{35}\br(1010,575)(960,565)(900,545)(860,512)\ws{25}\br(860,512)(830,520)(795,495)(770,500)(730,505)(715,470)\ws{22}\br(715,470)(560,430)\ws{17}\br(560,430)(520,455)(410,420)(360,438)(340,460)(320,465)(280,500)(220,480)(205,495)(160,470)
\ws{60}\br(1300,640)(1225,670)(1245,705)(1215,760)(1235,795)(1200,840)
\ws{17}\tw(160,470)(123,470)\tw(150,480)(115,520)\tw(205,495)(165,503)\tw(205,490)(198,545)\tw(215,480)(215,405)\tw(165,470)(165,437)\tw(200,420)(173,405)\tw(268,490)(264,445)\tw(280,500)(281,537)\tw(340,460)(339,520)\tw(360,435)(272,387)\tw(320,405)(331,371)\tw(360,435)(380,387)\br(410,420)(385,345)\tw(385,345)(290,296)\tw(390,335)(397,280)\tw(390,335)(422,313)\br(435,450)(447,405)\tw(447,405)(463,371)\tw(447,405)(430,487)\tw(447,410)(447,405)\tw(520,455)(488,495)\tw(560,430)(555,370)\tw(540,450)(556,471)
\tw(647,450)(647,495)\tw(715,470)(672,495)\br(730,505)(680,565)\tw(680,565)(655,620)\tw(680,565)(655,553)\tw(685,580)(688,604)
\br(770,500)(685,380)(620,320)(610,290)\tw(685,380)(630,371)\tw(685,380)(696,354)\tw(610,290)(605,221)\br(610,290)(565,265)\tw(565,265)(563,238)\tw(565,265)(505,255)\tw(590,285)(521,304)\tw(565,260)(538,238)\tw(620,320)(597,329)
\tw(860,510)(821,412)\tw(860,515)(771,553)\tw(880,545)(821,595)\tw(960,570)(912,612)\tw(965,570)(979,595)\tw(1000,570)(1012,603)\tw(990,560)(979,529)
\ws{25}\br(1205,575)(1190,545)(1130,528)(1100,470)(1005,430)(965,345)\ws{17}\br(965,345)(895,355)(870,300)(780,220)\tw(780,220)(663,163)\tw(1130,528)(1095,537)\tw(1190,545)(1211,503)\tw(1175,505)(1162,454)
\br(1100,470)(1065,350)\tw(1065,350)(1062,296)\tw(1065,350)(1111,337)\tw(1075,370)(1087,387)\tw(1085,395)(1101,412)\tw(1170,455)(1211,363)\tw(1200,385)(1155,337)
\tw(1005,430)(1012,379)\tw(965,345)(945,379)\br(965,345)(965,210)\tw(965,300)(995,279)\tw(965,310)(946,313)\tw(965,290)(929,255)\tw(965,210)(979,138)\tw(965,210)(937,196)\tw(965,210)(962,180)\tw(985,180)(1004,180)\tw(870,300)(871,238)\tw(875,338)(829,337)\tw(895,355)(895,371)
\br(780,220)(780,160)(730,130)(630,85)(530,65)(480,105)\tw(480,105)(480,139)\br(780,165)(805,100)\tw(780,165)(820,139)(853,139)\tw(640,85)(663,130)\br(1186,80)(1268,188)\tw(1268,188)(1236,230)\br(1268,188)(1290,188)
\tw(1100,640)(1062,636)\tw(1148,590)(1128,661)\tw(1100,640)(1095,694)\tw(1230,703)(1186,703)\tw(1225,700)(1211,686)\tw(1210,745)(1136,728)\tw(1215,760)(1195,769)\tw(1235,800)(1252,820)\tw(1200,835)(1178,820)\tw(1250,578)(1260,545)
%
\zn{800}{920}{224}{261}%
\ws{45}\br(1100,0)(1100,70)(1050,130)(1015,150)\ws{30}\br(1015,150)(995,210)(945,220)(935,320)(900,325)(895,360)\ws{25}\br(895,360)(880,380)(875,445)(795,460)(760,455)(725,545)(690,545)
\ws{17}\br(407,42)(427,30)(510,28)(590,95)(635,97)(680,87)(705,92)(737,72)(775,145)(850,145)(885,103)(915,125)(970,165)(1015,170)
\tw(420,36)(407,42)\tw(427,30)(427,22)\tw(510,28)(500,14)\tw(530,45)(544,28)\tw(560,70)(568,51)\tw(575,80)(587,51)\br(590,70)(515,85)(490,125)\tw(490,125)(464,144)\tw(515,85)(501,80)\tw(490,125)(500,144)\tw(550,80)(550,94)\tw(590,95)(569,115)\tw(605,100)(600,130)\tw(630,100)(618,130)\tw(635,95)(631,64)\tw(640,95)(642,64)\tw(672,85)(661,51)\tw(672,85)(680,28)\tw(730,70)(730,36)\tw(745,85)(755,94)\tw(775,120)(668,152)\tw(775,150)(725,174)\tw(750,130)(725,145)\tw(770,140)(773,145)\tw(785,145)(798,174)\tw(825,145)(828,101)\tw(855,145)(854,94)\tw(900,115)(934,116)\tw(965,165)(965,130)\tw(925,140)(922,181)\tw(960,160)(953,195)\tw(1010,170)(1003,137)\tw(1010,195)(1034,202)\tw(1030,145)(1065,181)\tw(1095,50)(1127,188)\tw(1100,70)(1115,87)\tw(1050,130)(1059,87)\tw(1090,80)(1052,108)\tw(1090,25)(1072,43)\tw(1090,25)(1027,8)
\ws{22}\br(1390,207)(1400,255)(1375,285)(1365,410)(1425,470)(1430,520)(1410,555)\ws{17}\br(1410,555)(1385,620)(1360,665)(1340,735)\tw(1400,240)(1375,245)\tw(1400,255)(1461,267)\tw(1375,285)(1338,281)\tw(1370,310)(1306,310)\tw(1365,310)(1387,310)\tw(1410,270)(1430,332)\tw(1365,375)(1313,354)\tw(1365,375)(1387,376)\br(1365,410)(1330,440)(1270,480)\tw(1270,480)(1238,520)\tw(1285,445)(1270,433)\tw(1325,445)(1306,455)\tw(1330,440)(1356,440)\tw(1320,450)(1300,491)\tw(1325,480)(1320,513)\tw(1325,480)(1338,535)\tw(1380,420)(1374,513)\tw(1415,455)(1430,433)\tw(1430,485)(1474,477)\tw(1410,555)(1486,570)\tw(1385,620)(1374,585)
\br(1420,545)(1440,560)(1440,720)(1420,770)(1405,790)\tw(1440,560)(1455,592)\tw(1440,660)(1468,665)\tw(1440,700)(1461,701)\tw(1360,670)(1288,693)\tw(1360,670)(1374,672)\tw(1360,680)(1374,722)\tw(1340,735)(1306,751)\tw(1420,750)(1412,722)\tw(1420,760)(1400,744)\tw(1430,750)(1455,766)\tw(1420,770)(1388,787)\tw(1420,775)(1430,802)\tw(1405,790)(1406,824)\tw(1430,205)(1443,216)
\tw(725,455)(620,435)\tw(672,440)(674,420)\tw(760,455)(761,427)\tw(760,465)(762,490)\br(795,460)(795,510)(810,550)\tw(810,550)(848,556)\tw(795,510)(780,542)\br(810,550)(795,590)(797,680)\tw(797,680)(836,687)\br(797,680)(775,710)\tw(775,710)(743,694)\tw(775,710)(775,723)\tw(790,690)(798,737)\tw(830,470)(842,535)\tw(835,490)(860,498)\tw(875,445)(873,476)\tw(880,400)(867,362)\tw(895,350)(885,340)\tw(875,405)(854,405)\tw(875,385)(868,385)
\br(900,325)(945,470)(945,540)(920,650)\tw(920,650)(916,875)\tw(928,382)(905,395)\tw(925,420)(904,420)\tw(925,425)(947,433)\tw(930,430)(909,448)\tw(945,470)(897,477)\tw(945,470)(971,470)\tw(945,530)(972,513)\tw(945,525)(960,520)\tw(945,540)(972,592)\br(945,540)(1020,570)\tw(1020,570)(1065,578)\tw(1020,570)(1015,592)\tw(945,540)(910,550)\tw(920,605)(904,600)\tw(925,615)(1009,715)\tw(940,650)(953,680)\br(920,730)(946,715)\tw(946,715)(965,730)\tw(946,715)(947,715)\tw(920,725)(891,730)\tw(950,740)(953,759)\tw(930,320)(960,354)
\br(1000,260)(1030,295)\tw(1030,295)(1028,362)\tw(1030,300)(1077,332)\tw(1030,295)(1072,290)\tw(1020,255)(1028,245)\tw(1020,260)(1040,260)\tw(1020,260)(991,282)
\br(995,210)(905,220)(860,230)(820,262)(775,272)(670,280)(615,283)(565,283)\tw(565,283)(558,304)\tw(880,225)(872,203)\tw(905,225)(867,282)\tw(885,235)(885,245)\tw(825,262)(830,231)\tw(820,262)(817,295)\br(775,272)(765,350)\tw(765,350)(780,354)\tw(765,350)(730,347)\tw(770,272)(755,231)\tw(725,272)(736,231)\tw(730,272)(730,296)\tw(670,280)(661,311)\br(670,270)(630,245)\tw(630,245)(581,231)\tw(630,245)(631,210)\tw(565,300)(569,325)
\br(690,545)(685,615)(655,628)(660,675)(580,725)(525,725)\tw(685,615)(692,622)\tw(655,625)(631,622)\tw(660,665)(575,658)\tw(525,725)(507,751)\tw(525,725)(532,759)\tw(580,725)(575,702)\tw(590,735)(599,759)\br(620,700)(625,740)\tw(625,740)(674,773)\tw(625,740)(619,781)
\br(690,545)(650,555)(570,530)(510,535)(490,560)\tw(545,520)(532,462)\tw(545,510)(545,477)\tw(550,510)(544,520)\tw(510,535)(470,520)\tw(490,520)(483,498)\tw(520,490)(507,492)\tw(490,565)(432,578)\tw(480,565)(420,556)\tw(570,535)(513,578)\tw(625,550)(575,614)\tw(655,555)(655,571)\tw(690,560)(712,600)\tw(720,545)(730,586)
\br(570,730)(580,790)(530,830)(515,830)(490,820)(465,855)(430,860)(385,845)(355,880)\tw(355,880)(321,918)\tw(530,830)(550,831)\tw(515,830)(513,875)\tw(465,855)(457,825)\tw(465,860)(476,904)\tw(450,860)(451,897)\br(385,845)(385,800)\tw(385,800)(389,789)\tw(385,800)(333,767)\tw(385,845)(372,838)\tw(385,845)(327,853)
\br(420,865)(395,910)(400,955)(410,985)\tw(410,985)(419,1005)\tw(410,985)(402,1012)\tw(390,985)(376,984)\tw(420,880)(420,904)\tw(395,910)(364,933)\tw(395,920)(371,947)
\br(580,790)(605,860)(625,910)(640,945)(672,965)\tw(672,965)(680,975)\tw(605,865)(650,846)\tw(610,920)(575,918)\tw(610,920)(594,954)\tw(640,945)(650,925)\tw(640,945)(625,984)\tw(665,960)(674,933)\tw(672,970)(668,991)
%
% cells without a dot
\zn{1300}{600}{300}{300}%
\dm{76}(440,390)\dm{72}(180,535)\dm{78}(60,620)\dm{72}(200,590)\dm{72}(310,560)\dm{74}(130,1080)\dm{74}(200,1130)\dm{74}(340,1050)\dm{82}(290,960)\dm{68}(845,760)\dm{50}(840,860)\dm{64}(950,980)\dm{62}(1030,1000)\dm{55}(930,870)\dm{60}(980,830)\dm{50}(1180,250)\dm{42}(1320,250)\dm{40}(1380,130)\dm{40}(1330,480)\dm{50}(1300,390)\dm{60}(610,110)\dm{58}(490,60)\dm{62}(590,30)\dm{30}(280,30)\dm{55}(320,100)\dm{50}(110,120)\dm{55}(210,90)\dm{70}(790,1100)\dm{92}(610,790)\dm{60}(1280,1170)\dm{50}(1100,1150)\dm{42}(1420,1170)\dm{66}(1440,1050)\dm{58}(1300,1090)
\zn{1790}{680}{300}{300}%
\dm{55}(60,90)\dm{68}(430,480)\dm{45}(530,480)\dm{78}(280,560)\dm{72}(425,610)\dm{70}(515,620)\dm{62}(640,640)\dm{68}(185,235)\dm{45}(300,220)\dm{55}(360,90)\dm{62}(225,640)\dm{60}(230,510)\dm{50}(660,800)\dm{40}(770,850)
\zn{800}{120}{224}{261}%
\dm{50}(1500,1290)\dm{46}(1325,1240)\dm{45}(1080,1500)\dm{42}(1250,1350)\dm{58}(950,1530)\dm{50}(870,1500)
\zn{1480}{920}{218}{261}%
\dm{62}(320,250)\dm{72}(250,440)\dm{54}(380,510)\dm{46}(440,640)\dm{66}(300,150)\dm{46}(50,950)\dm{42}(60,1040)\dm{40}(130,1060)\dm{40}(240,1120)\dm{60}(650,100)\dm{70}(770,250)
}
\def\polydata{%
\zn{800}{120}{224}{261}%
\pg{.09}(-10,17)(390,17)(738,578)(712,1205)(650,1360)(600,1395)(345,945)(-10,290)
\pg{.09}(-10,290)(345,945)(528,1450)(505,1458)(-10,860)
\pg{.19}(345,945)(597,1395)(562,1462)(528,1450)
\pg{.23}(-10,860)(505,1458)(525,1530)(490,1545)(-10,940)
\pg{.15}(-10,940)(507,1530)(495,1560)(327,1568)(105,1458)(-10,1372)
\pg{.09}(390,17)(430,17)(1392,547)(1458,605)(1435,725)(1075,808)(750,595)(738,578)
\pg{.10}(430,17)(782,17)(1525,458)(1545,487)(1392,547)
\pg{.13}(782,17)(1070,17)(1432,245)(1500,320)(1560,430)(1525,458)
\pg{.33}(738,578)(750,595)(905,1072)(925,1220)(780,1405)(718,1345)(712,1205)
\pg{.18}(750,595)(1075,808)(1160,872)(1272,1020)(1272,1045)(1222,1180)(1145,1225)(905,1072)
\pg{.27}(1075,808)(1425,725)(1450,765)(1425,835)(1163,872)
\pg{.42}(1163,872)(1425,838)(1450,900)(1505,950)(1318,1035)(1272,1020)
\pg{.58}(1345,1045)(1505,955)(1485,1070)(1453,1103)
\pg{.25}(1272,1045)(1290,1175)(1330,1320)(1365,1270)(1385,1200)(1380,1080)(1318,1035)
\pg{.40}(1380,1080)(1453,1105)(1478,1180)(1425,1210)(1395,1200)
\pg{.37}(905,1072)(1145,1225)(1160,1295)(950,1335)(925,1158)
\pg{.43}(925,1220)(950,1335)(955,1405)(918,1440)(800,1470)(780,1405)
\pg{.45}(950,1335)(1160,1300)(1160,1385)(1050,1445)(955,1405)
\pg{.45}(955,1405)(1050,1445)(1095,1485)(1115,1568)(890,1568)(918,1440)
\pg{.48}(1222,1180)(1272,1045)(1290,1175)(1290,1285)(1250,1285)(1205,1230)
\pg{.38}(712,1205)(718,1345)(672,1420)(650,1360)
\pg{.38}(1435,245)(1568,252)(1568,330)(1500,320)
\pg{.35}(1500,320)(1568,355)(1568,430)(1560,430)
\zn{0}{0}{100}{100}%
\pg{.15}(1278,120)(1439,214)(1530,216)(1546,120)
\pg{.47}(847,683)(880,692)(990,738)(995,785)(978,795)(945,783)
\pg{.38}(790,648)(847,683)(945,783)(945,813)(915,815)(790,730)
\pg{.33}(790,730)(915,815)(925,840)(790,828)
\pg{.27}(790,828)(925,840)(932,862)(913,923)(790,1015)
\pg{.52}(932,862)(960,843)(963,898)(913,923)
\pg{.13}(913,923)(958,903)(1001,947)(868,1038)(790,1042)(790,1015)
\pg{.14}(2190,430)(1997,599)(1988,660)(1992,688)(2010,727)(2163,773)(2190,765)
\zn{1480}{120}{218}{261}%
\pg{.27}(142,17)(248,17)(220,210)(165,290)(132,290)(108,225)
\pg{.40}(248,17)(278,17)(378,280)(325,310)(270,270)(232,245)(222,210)
\pg{.38}(278,17)(465,17)(430,215)(378,280)
\pg{.35}(465,17)(568,17)(455,300)(440,280)(430,215)
\pg{.18}(568,17)(1270,17)(490,275)(458,300)
\pg{.25}(1270,17)(458,305)(440,340)(510,440)(545,455)(580,445)(668,415)(1275,17)
\pg{.30}(1275,17)(1462,17)(680,710)(612,630)(668,415)
\pg{.20}(1462,17)(1540,17)(1540,452)(880,835)(790,835)(655,745)(680,710)
\pg{.30}(1540,452)(1540,609)(925,1020)(855,1050)(780,1015)(835,885)(880,835)
\pg{.12}(1540,609)(1540,820)(1128,1250)(900,1340)(850,1150)(925,1020)
\pg{.42}(840,1385)(900,1340)(1128,1252)(1108,1410)(1115,1480)(990,1545)(830,1430)
\pg{.37}(545,1405)(620,1485)(685,1470)(820,1410)(720,1315)(610,1340)
\zn{1790}{680}{300}{300}%
\pg{.28}(660,140)(1120,278)(960,360)(885,372)(750,330)(680,250)
\pg{.18}(960,358)(1180,260)(1180,635)(960,703)(890,680)(900,520)
\pg{.45}(885,372)(960,358)(900,520)(880,610)(830,630)(760,610)(760,470)
\pg{.24}(900,770)(960,703)(1180,635)(1180,768)
\pg{.17}(900,770)(1180,768)(1180,900)(900,900)
\pg{.40}(655,335)(750,330)(885,372)(760,470)(680,515)(595,425)(530,410)
\pg{.50}(555,125)(605,25)(660,140)(680,250)(555,255)(480,210)
\pg{.40}(310,0)(430,120)(545,0)
\pg{.45}(205,0)(310,0)(430,120)(295,165)
\pg{.50}(545,0)(605,0)(605,25)(555,125)(480,210)(435,125)
\pg{.55}(205,10)(295,165)(245,265)(205,270)(125,205)(125,175)
\pg{.55}(15,0)(205,0)(205,10)(125,175)(15,175)
\zn{800}{920}{224}{261}%
\pg{.13}(-10,235)(250,0)(390,0)(450,85)(150,305)(-10,315)
\pg{.17}(150,305)(450,85)(485,175)(485,240)(380,330)
\pg{.33}(-10,315)(150,308)(320,335)(395,445)(450,548)(340,637)(-10,450)
\pg{.17}(-10,450)(340,637)(390,680)(340,810)(-10,778)
\pg{.24}(-10,778)(345,810)(345,885)(-10,845)
\pg{.14}(-10,845)(345,888)(330,975)(-10,1358)
\pg{.20}(-10,1358)(330,975)(395,985)(-10,1450)
\pg{.08}(-10,1450)(395,985)(570,1560)(-10,1560)
\pg{.17}(400,985)(415,955)(445,955)(515,1000)(530,1085)(568,1560)
\pg{.33}(532,1082)(640,960)(580,1560)(568,1560)
\pg{.18}(650,960)(900,1245)(1000,1560)(580,1560)
\pg{.30}(660,970)(795,930)(800,932)(900,1245)
\pg{.20}(793,880)(850,815)(920,803)(1060,870)(1140,935)(1180,1110)(1205,1440)(1190,1560)(1000,1560)(900,1245)(800,930)
\pg{.40}(1140,935)(1153,785)(1345,710)(1320,860)(1182,1112)
\pg{.20}(1182,1112)(1320,860)(1405,800)(1485,915)(1450,1015)(1310,1275)(1205,1440)
\pg{.33}(1190,1560)(1205,1440)(1315,1275)(1709,980)(1718,1009)(1707,1139)(1430,1560)
\pg{.30}(1430,1560)(1707,1139)(1445,1560)
\pg{.38}(1315,1275)(1450,1015)(1568,970)(1657,951)(1709,980)
\pg{.42}(1450,1015)(1485,915)(1600,855)(1617,946)(1657,951)(1568,970)
\pg{.45}(1405,800)(1500,720)(1568,780)(1600,830)(1600,855)(1485,915)
\pg{.45}(1030,530)(1070,462)(1130,458)(1175,640)(1148,708)(1050,655)(1020,600)
\pg{.35}(985,655)(1050,655)(1150,710)(1150,785)(1140,935)(1060,870)(1000,760)
\pg{.50}(1150,785)(1152,708)(1175,640)(1280,603)(1320,640)(1345,710)
\pg{.50}(1130,458)(1160,430)(1280,550)(1282,600)(1175,640)
\pg{.50}(320,335)(380,330)(450,365)(490,500)(450,548)(395,445)
\pg{.48}(380,330)(505,238)(620,280)(490,370)
\pg{.50}(490,370)(620,280)(620,365)(565,395)
\pg{.30}(485,175)(450,85)(545,175)(505,238)(485,240)
\pg{.50}(340,635)(450,548)(500,660)(430,687)(390,675)
\pg{.33}(390,680)(430,687)(442,750)(415,825)(345,808)
\pg{.45}(345,810)(415,830)(415,950)(335,975)(345,885)
\pg{.45}(515,1000)(530,1082)(640,960)(610,930)(520,970)
\pg{.33}(650,955)(800,930)(790,880)(755,852)(670,885)(640,930)
\pg{.50}(755,855)(750,790)(800,690)(845,740)(850,812)(793,880)
\zn{1480}{920}{218}{261}%
\pg{.18}(-66,1560)(175,1138)(295,1170)(355,1205)(470,1560)
\pg{.00}(355,1205)(370,1135)(400,1110)(625,1043)(790,1078)(1278,1222)(1330,1268)(1540,1517)(1540,1560)(470,1560)
\pg{.17}(410,1050)(525,1015)(625,1043)(400,1110)(385,1090)
\pg{.35}(415,880)(450,845)(790,1078)(625,1043)(525,1013)(435,950)
\pg{.27}(450,845)(470,800)(810,710)(855,725)(1278,1222)(790,1078)
\pg{.36}(470,800)(450,775)(505,605)(550,610)(810,710)
\pg{.22}(855,725)(805,375)(1085,305)(1115,385)(1330,1268)(1278,1222)
\pg{.25}(1115,385)(1195,120)(1540,592)(1540,1517)(1330,1268)
\pg{.30}(1195,120)(1225,120)(1355,190)(1540,550)(1540,592)
\pg{.17}(1330,55)(1540,42)(1540,550)(1355,190)(1330,110)
\pg{.27}(405,425)(480,372)(520,395)(545,430)(550,610)(508,603)(430,505)
\pg{.22}(545,430)(598,375)(855,725)(810,710)(550,610)
\pg{.28}(598,375)(590,275)(737,265)(775,305)(795,335)(805,375)(855,725)
\pg{.38}(1070,250)(1095,150)(1180,85)(1195,120)(1115,385)
\pg{.37}(375,225)(470,210)(510,265)(490,370)(410,390)
\pg{.40}(590,270)(610,165)(690,145)(737,265)
\pg{.45}(575,130)(600,60)(650,55)(690,85)(695,145)(610,165)
\pg{.50}(295,490)(320,440)(405,430)(430,500)(360,600)(320,540)
\pg{.52}(365,625)(430,505)(508,605)(448,770)(440,650)(390,660)
\zn{0}{0}{100}{100}%
\pg{.14}(2190,430)(1997,599)(1988,660)(1992,688)(2010,727)(2163,773)(2190,765)
\pg{.14}(2190,430)(2190,120)(2190,430)
}
\begin{document}
\begin{tikzpicture}[x=1cm,y=1cm]
\useasboundingbox (0,0) rectangle (28.8,-16.98);
\begin{scope}
\clip (7.97,-1.27) rectangle (21.82,-15.10);
\fill[black!60] (7.97,-1.27) rectangle (21.82,-15.10);
\passone \treedata
\pgfsetstrokecolor{black}\pgfsetlinewidth{0.3pt}
\ii=0 \iloop
\pgfsetstrokecolor{black}\pgfsetlinewidth{0.3pt}
\polydata
\end{scope}
\draw[black!60,line width=0.4pt] (7.97,-1.27) rectangle (21.82,-15.10);
\begin{scope}
\clip (7.97,-1.27) rectangle (21.82,-15.10);
\pgfsetstrokecolor{blue}\pgfsetfillcolor{blue}\pgfsetroundcap\pgfsetroundjoin
\passtwo \treedata
\end{scope}
\fill[rootc] (15.27,-8.09) circle (0.11);
\end{tikzpicture}
\end{document}
